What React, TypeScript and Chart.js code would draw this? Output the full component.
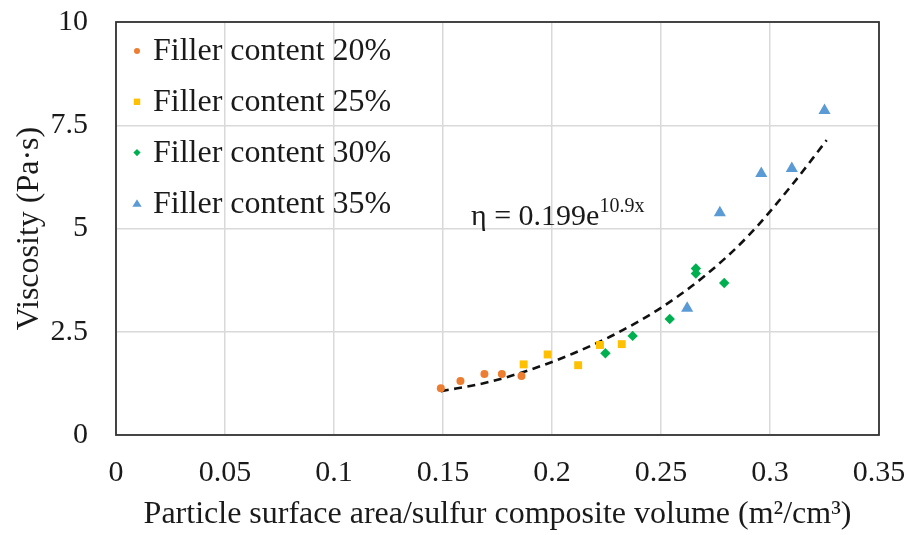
import React, { useEffect, useRef } from "react";
import { Chart, registerables } from "chart.js";

Chart.register(...registerables);

const seriesLabels = ["Filler content 20%", "Filler content 25%", "Filler content 30%", "Filler content 35%"];
const seriesColors = ["#ED7D31", "#FFC000", "#00B050", "#5B9BD5"];
const seriesShapes = ["circle", "rect", "rectRot", "triangle"];

const x20 = [0.149, 0.158, 0.169, 0.177, 0.186];
const y20 = [1.13, 1.31, 1.48, 1.48, 1.43];
const x25 = [0.187, 0.198, 0.212, 0.222, 0.232];
const y25 = [1.71, 1.95, 1.69, 2.18, 2.2];
const x30 = [0.2245, 0.237, 0.254, 0.266, 0.266, 0.279];
const y30 = [1.98, 2.4, 2.81, 4.03, 3.91, 3.68];
const x35 = [0.262, 0.277, 0.296, 0.31, 0.325];
const y35 = [3.07, 5.38, 6.33, 6.45, 7.86];

const trendX = [0.149, 0.17, 0.19, 0.21, 0.23, 0.25, 0.27, 0.29, 0.31, 0.326];
const trendY = [1.06, 1.27, 1.58, 1.98, 2.47, 3.08, 3.85, 4.82, 6.05, 7.14];

const xTicks = [0, 0.05, 0.1, 0.15, 0.2, 0.25, 0.3, 0.35];
const yTicks = [0, 2.5, 5, 7.5, 10];

const equationMain = "η = 0.199e";
const equationSup = "10.9x";
const xTitle = "Particle surface area/sulfur composite volume (m²/cm³)";
const yTitle = "Viscosity (Pa·s)";

const FONT = "'Liberation Serif', 'Times New Roman', serif";
const TEXT = "#1a1a1a";

function pts(xs: number[], ys: number[]) {
  return xs.map((x, i) => ({ x, y: ys[i] }));
}

function drawMarker(ctx: CanvasRenderingContext2D, shape: string, x: number, y: number, r: number, color: string) {
  ctx.save();
  ctx.fillStyle = color;
  ctx.beginPath();
  if (shape === "circle") {
    ctx.arc(x, y, r, 0, Math.PI * 2);
  } else if (shape === "rect") {
    ctx.rect(x - r, y - r, 2 * r, 2 * r);
  } else if (shape === "rectRot") {
    ctx.moveTo(x, y - r);
    ctx.lineTo(x + r, y);
    ctx.lineTo(x, y + r);
    ctx.lineTo(x - r, y);
    ctx.closePath();
  } else {
    ctx.moveTo(x, y - r);
    ctx.lineTo(x + r * 1.1, y + r * 0.8);
    ctx.lineTo(x - r * 1.1, y + r * 0.8);
    ctx.closePath();
  }
  ctx.fill();
  ctx.restore();
}

const framePlugin = {
  id: "frame",
  beforeDatasetsDraw(chart: any) {
    const { ctx, chartArea: a } = chart;
    ctx.save();
    ctx.strokeStyle = "#333333";
    ctx.lineWidth = 1.8;
    ctx.strokeRect(a.left, a.top, a.right - a.left, a.bottom - a.top);
    ctx.restore();
  },
};

const legendPlugin = {
  id: "innerLegend",
  afterDraw(chart: any) {
    const { ctx, chartArea: a } = chart;
    ctx.save();
    ctx.font = `32px ${FONT}`;
    ctx.fillStyle = TEXT;
    ctx.textBaseline = "middle";
    ctx.textAlign = "left";
    const sizes = [3, 3.2, 3.6, 4.2];
    seriesLabels.forEach((label, i) => {
      const cy = a.top + 28 + i * 50.8;
      drawMarker(ctx, seriesShapes[i], a.left + 21, cy + 1, sizes[i], seriesColors[i]);
      ctx.fillStyle = TEXT;
      ctx.fillText(label, a.left + 37, cy + 2);
    });
    ctx.restore();
  },
};

const equationPlugin = {
  id: "equation",
  afterDraw(chart: any) {
    const { ctx, chartArea: a } = chart;
    ctx.save();
    ctx.fillStyle = TEXT;
    ctx.textBaseline = "alphabetic";
    ctx.textAlign = "left";
    ctx.font = `30px ${FONT}`;
    const x0 = a.left + 355;
    const base = a.top + 203;
    ctx.fillText(equationMain, x0, base);
    const w = ctx.measureText(equationMain).width;
    ctx.font = `20px ${FONT}`;
    ctx.fillText(equationSup, x0 + w, base - 13);
    ctx.restore();
  },
};

export default function App() {
  const ref = useRef<HTMLCanvasElement | null>(null);

  useEffect(() => {
    document.body.style.margin = "0";
    const canvas = ref.current;
    if (!canvas) return;
    const scatterSets = [
      pts(x20, y20),
      pts(x25, y25),
      pts(x30, y30),
      pts(x35, y35),
    ].map((data, i) => ({
      type: "scatter" as const,
      label: seriesLabels[i],
      data,
      backgroundColor: seriesColors[i],
      borderColor: seriesColors[i],
      borderWidth: 0,
      pointStyle: seriesShapes[i],
      pointRadius: [4, 5.6, 5.2, 7][i],
      showLine: false,
    }));
    const chart = new Chart(canvas, {
      type: "scatter",
      data: {
        datasets: [
          {
            type: "line" as const,
            label: "trend",
            data: pts(trendX, trendY),
            borderColor: "#111111",
            borderWidth: 2.6,
            borderDash: [8, 5.5],
            pointRadius: 0,
            fill: false,
            cubicInterpolationMode: "monotone",
            order: 10,
          } as any,
          ...scatterSets,
        ],
      },
      options: {
        responsive: false,
        animation: false,
        layout: { padding: { left: 0, right: 29, top: 22, bottom: 0 } },
        plugins: {
          legend: { display: false },
          tooltip: { enabled: false },
        },
        scales: {
          x: {
            type: "linear",
            min: 0,
            max: 0.35,
            afterBuildTicks: (s: any) => {
              s.ticks = xTicks.map((v) => ({ value: v }));
            },
            afterFit: (s: any) => {
              s.height = 100;
              s.paddingLeft = 0;
              s.paddingRight = 0;
            },
            ticks: {
              callback: (v: any) => String(v),
              font: { family: FONT, size: 30 },
              color: TEXT,
              padding: 20,
              maxRotation: 0,
            },
            grid: { color: "#d9d9d9", lineWidth: 1.5, drawTicks: false },
            border: { display: false },
            title: {
              display: true,
              text: xTitle,
              font: { family: FONT, size: 32 },
              color: TEXT,
              padding: { top: 0, bottom: 1 },
            },
          },
          y: {
            type: "linear",
            min: 0,
            max: 10,
            afterBuildTicks: (s: any) => {
              s.ticks = yTicks.map((v) => ({ value: v }));
            },
            afterFit: (s: any) => {
              s.width = 116;
              s.paddingTop = 0;
              s.paddingBottom = 0;
            },
            ticks: {
              callback: (v: any) => String(v),
              font: { family: FONT, size: 30 },
              color: TEXT,
              padding: 28,
            },
            grid: { color: "#d9d9d9", lineWidth: 1.5, drawTicks: false },
            border: { display: false },
            title: {
              display: true,
              text: yTitle,
              font: { family: FONT, size: 32 },
              color: TEXT,
              padding: { top: 10, bottom: 0 },
            },
          },
        },
      },
      plugins: [framePlugin, legendPlugin, equationPlugin],
    });
    return () => chart.destroy();
  }, []);

  return (
    <div style={{ width: 908, height: 535 }}>
      <canvas ref={ref} width={908} height={535} style={{ display: "block" }} />
    </div>
  );
}
